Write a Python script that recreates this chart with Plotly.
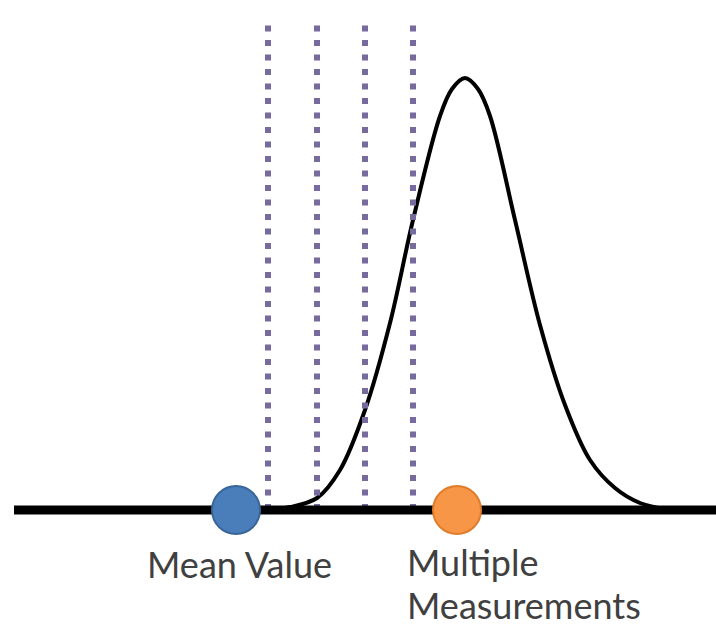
import plotly.graph_objects as go

# Distribution curve (position, height above baseline)
curve_x = [260, 290, 317, 340, 365, 390, 413, 440, 452, 465, 478, 490, 515, 540, 565, 590, 615, 640, 665]
curve_y = [0, 3, 12, 40, 100, 187, 290, 394, 421, 432, 421, 394, 290, 185, 105, 50, 22, 7, 1]

# Measurement positions (dotted lines)
measurements = [268, 317, 365, 413]
measurement_top = 487

# Points on the axis
mean_value_x = 236
multiple_x = 457
baseline_x = [14, 716]

labels = {"mean": "Mean Value", "mult1": "Multiple", "mult2": "Measurements"}

fig = go.Figure()

# curve
fig.add_trace(go.Scatter(x=curve_x, y=curve_y, mode="lines",
                         line=dict(color="black", width=4, shape="spline", smoothing=1.0),
                         hoverinfo="skip"))

# dotted measurement lines
for m in measurements:
    fig.add_trace(go.Scatter(x=[m, m], y=[0, measurement_top], mode="lines",
                             line=dict(color="#776b9e", width=6, dash="6px,8.5px"),
                             hoverinfo="skip"))

# baseline
fig.add_trace(go.Scatter(x=baseline_x, y=[0, 0], mode="lines",
                         line=dict(color="black", width=9), hoverinfo="skip"))

# circles
fig.add_trace(go.Scatter(x=[mean_value_x], y=[0], mode="markers",
                         marker=dict(size=48, color="#4a7ebb", line=dict(color="#3a6598", width=2)),
                         hoverinfo="skip"))
fig.add_trace(go.Scatter(x=[multiple_x], y=[0], mode="markers",
                         marker=dict(size=48, color="#f79646", line=dict(color="#e07d2c", width=2)),
                         hoverinfo="skip"))

font = dict(family="Lato", size=36, color="#404040")
fig.add_annotation(x=239, y=-54, text=labels["mean"], showarrow=False,
                   xanchor="center", yanchor="middle", font=font, borderpad=0)
fig.add_annotation(x=406, y=-52, text=labels["mult1"], showarrow=False,
                   xanchor="left", yanchor="middle", font=font, borderpad=0)
fig.add_annotation(x=406, y=-95, text=labels["mult2"], showarrow=False,
                   xanchor="left", yanchor="middle", font=font, borderpad=0)

fig.update_layout(width=716, height=627, margin=dict(l=0, r=0, t=0, b=0),
                  paper_bgcolor="white", plot_bgcolor="white", showlegend=False,
                  xaxis=dict(range=[0, 716], visible=False, fixedrange=True),
                  yaxis=dict(range=[-117, 510], visible=False, fixedrange=True),
                  hovermode=False)

fig.write_html("out.html", config={"displayModeBar": False},
               post_script="document.body.style.margin='0';document.body.style.overflow='hidden';")
